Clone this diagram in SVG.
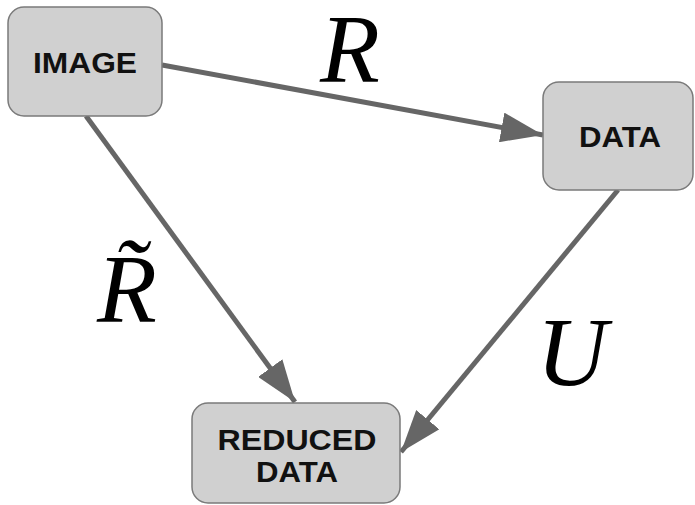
<svg xmlns="http://www.w3.org/2000/svg" width="695" height="505" viewBox="0 0 695 505">
  <style>
    .box { fill: #d0d0d0; stroke: #7a7a7a; stroke-width: 1.5; }
    .lbl { font-family: "Liberation Sans", Arial, sans-serif; font-weight: bold; font-size: 29px; fill: #111; text-anchor: middle; }
    .edge { stroke: #666; stroke-width: 5; fill: none; }
    .math { font-family: "Liberation Serif", "Times New Roman", serif; font-style: italic; font-size: 98px; fill: #000; text-anchor: middle; }
  </style>
  <defs>
    <marker id="head" markerUnits="userSpaceOnUse" markerWidth="44" markerHeight="30" viewBox="0 0 44 30" refX="42" refY="15" orient="auto">
      <path d="M0,0 L42,15 L0,30 Z" fill="#666"/>
    </marker>
  </defs>

  <g id="connectors">
    <path class="edge" d="M162,65 L543,135" marker-end="url(#head)"/>
    <path class="edge" d="M86,116 L295,402" marker-end="url(#head)"/>
    <path class="edge" d="M618,190 L401,452" marker-end="url(#head)"/>
  </g>

  <g id="image">
    <rect class="box" x="8" y="7" width="154" height="109" rx="16"/>
    <text class="lbl" x="85" y="73" textLength="104" lengthAdjust="spacingAndGlyphs">IMAGE</text>
  </g>

  <g id="data">
    <rect class="box" x="543" y="82" width="150" height="108" rx="16"/>
    <text class="lbl" x="620" y="147" textLength="82" lengthAdjust="spacingAndGlyphs">DATA</text>
  </g>

  <g id="reduced-data">
    <rect class="box" x="192" y="403" width="208" height="100" rx="16"/>
    <text class="lbl" x="297" y="450" textLength="159" lengthAdjust="spacingAndGlyphs">REDUCED</text>
    <text class="lbl" x="297" y="482" textLength="82" lengthAdjust="spacingAndGlyphs">DATA</text>
  </g>

  <g id="labels">
    <text class="math" x="350" y="82" font-size="91">R</text>
    <text class="math" x="127" y="322">R&#x303;</text>
    <text class="math" x="572" y="385">U</text>
  </g>
</svg>
